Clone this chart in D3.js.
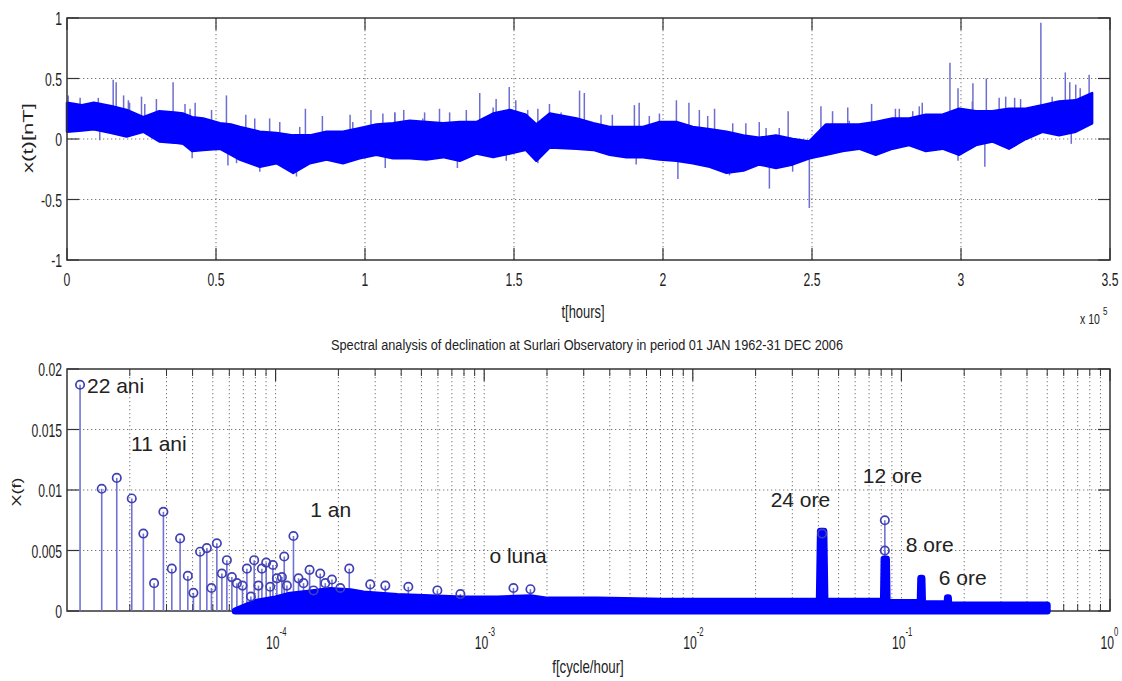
<!DOCTYPE html>
<html><head><meta charset="utf-8">
<script src="https://cdn.jsdelivr.net/npm/d3@7"></script>
<style>body{margin:0;background:#fff}svg{display:block}</style>
</head><body><svg id="c" width="1122" height="681"></svg>
<script>
// ---------- DATA (top: time series, t in units of 1e5 hours) ----------
const tSample=[0,0.05,0.09,0.15,0.20,0.256,0.31,0.36,0.39,0.42,0.457,0.513,0.55,0.58,0.647,0.703,0.759,0.815,0.871,0.926,0.982,1.038,1.094,1.15,1.206,1.262,1.318,1.374,1.43,1.486,1.54,1.575,1.62,1.71,1.766,1.821,1.877,1.933,1.989,2.045,2.10,2.157,2.213,2.27,2.323,2.379,2.435,2.491,2.547,2.603,2.658,2.714,2.77,2.826,2.882,2.938,2.994,3.05,3.105,3.161,3.217,3.273,3.329,3.385,3.44];
const bandUpper=[0.30,0.28,0.30,0.27,0.24,0.18,0.23,0.22,0.21,0.18,0.17,0.13,0.12,0.10,0.06,0.05,0.03,0.03,0.06,0.06,0.09,0.12,0.13,0.15,0.14,0.13,0.14,0.14,0.21,0.24,0.20,0.12,0.21,0.17,0.13,0.10,0.10,0.10,0.14,0.14,0.10,0.08,0.06,0.03,0.01,0.03,0.00,-0.02,0.12,0.12,0.12,0.14,0.17,0.17,0.20,0.20,0.25,0.23,0.23,0.25,0.25,0.28,0.31,0.32,0.38];
const bandLower=[0.06,0.07,0.08,0.05,0.02,0.06,-0.02,-0.03,-0.04,-0.10,-0.09,-0.08,-0.13,-0.17,-0.23,-0.20,-0.28,-0.20,-0.17,-0.20,-0.16,-0.13,-0.16,-0.16,-0.17,-0.15,-0.18,-0.12,-0.15,-0.12,-0.09,-0.18,-0.07,-0.08,-0.09,-0.13,-0.15,-0.15,-0.17,-0.18,-0.20,-0.23,-0.28,-0.26,-0.21,-0.24,-0.21,-0.16,-0.13,-0.10,-0.08,-0.13,-0.08,-0.05,-0.10,-0.08,-0.13,-0.05,-0.02,-0.08,0.00,0.06,0.03,0.06,0.13];
const spikeT=[0.004,0.155,0.165,0.19,0.21,0.25,0.30,0.356,0.43,0.535,0.60,0.68,0.80,0.857,0.95,1.02,1.10,1.13,1.20,1.25,1.385,1.44,1.484,1.506,1.58,1.72,1.736,1.83,1.904,1.92,2.045,2.087,2.173,2.234,2.42,2.53,2.62,2.70,2.78,2.87,2.963,2.99,3.04,3.085,3.15,3.20,3.268,3.35,3.365,3.40,3.43];
const spikeV=[0.36,0.49,0.47,0.36,0.30,0.35,0.33,0.47,0.30,0.36,0.20,0.17,0.25,0.19,0.20,0.24,0.22,0.24,0.22,0.25,0.38,0.33,0.43,0.32,0.25,0.40,0.38,0.20,0.28,0.30,0.32,0.30,0.25,0.13,0.23,0.27,0.26,0.29,0.25,0.30,0.63,0.42,0.46,0.50,0.35,0.33,0.96,0.55,0.47,0.42,0.53];
const minorT=[0.044,0.105,0.206,0.261,0.396,0.413,0.485,0.63,0.714,0.781,0.959,1.06,1.10,1.194,1.284,1.34,1.43,1.546,1.619,1.658,1.792,1.954,1.988,2.122,2.15,2.278,2.323,2.346,2.39,2.569,2.625,2.793,2.838,2.86,3.038,3.128,3.18,3.306,3.385];
const minorV=[0.34,0.34,0.32,0.29,0.29,0.25,0.24,0.17,0.14,0.10,0.14,0.21,0.22,0.17,0.22,0.24,0.26,0.24,0.29,0.22,0.20,0.19,0.21,0.24,0.19,0.13,0.14,0.09,0.09,0.23,0.15,0.25,0.23,0.27,0.31,0.34,0.34,0.35,0.45];
const dipT=[0.11,0.42,0.54,0.569,0.647,0.77,1.068,1.31,1.474,1.58,1.91,2.05,2.223,2.357,2.435,2.491,2.99,3.08,3.37];
const dipV=[-0.01,-0.16,-0.22,-0.20,-0.27,-0.31,-0.24,-0.24,-0.18,-0.20,-0.21,-0.33,-0.30,-0.41,-0.27,-0.57,-0.18,-0.23,-0.04];
const topXTicks=[0,0.5,1,1.5,2,2.5,3,3.5];
const topXLabels=["0","0.5","1","1.5","2","2.5","3","3.5"];
const topYTicks=[-1,-0.5,0,0.5,1];
const topYLabels=["-1","-0.5","0","0.5","1"];

// ---------- DATA (bottom: spectrum) ----------
const stemF=[1.155e-5,1.467e-5,1.732e-5,2.044e-5,2.323e-5,2.615e-5,2.898e-5,3.180e-5,3.485e-5,3.795e-5,4.037e-5,4.346e-5,4.681e-5,4.925e-5,5.228e-5,5.526e-5,5.840e-5,6.171e-5,6.522e-5,6.938e-5,7.284e-5,7.613e-5,7.895e-5,8.278e-5,8.596e-5,9.013e-5,9.421e-5,9.706e-5,1.014e-4,1.072e-4,1.100e-4,1.133e-4,1.218e-4,1.288e-4,1.361e-4,1.455e-4,1.520e-4,1.637e-4,1.730e-4,1.863e-4,2.042e-4,2.255e-4,2.843e-4,3.357e-4,4.328e-4,5.963e-4,7.689e-4,1.381e-3,1.666e-3,4.17e-2,8.33e-2,8.33e-2];
const stemV=[0.0187,0.0101,0.0110,0.0093,0.0064,0.0023,0.0082,0.0035,0.0060,0.0029,0.0015,0.0049,0.0052,0.0019,0.0056,0.0031,0.0042,0.0028,0.0023,0.0021,0.0035,0.0012,0.0042,0.0021,0.0035,0.0040,0.0020,0.0038,0.0027,0.0028,0.0045,0.0021,0.0062,0.0027,0.0023,0.0034,0.0017,0.0031,0.0023,0.0026,0.0019,0.0035,0.0022,0.0021,0.0020,0.0017,0.0014,0.0019,0.0018,0.0064,0.0075,0.0050];
const denseF=[6.4e-5,8.0e-5,1.0e-4,1.175e-4,1.466e-4,1.828e-4,2.28e-4,2.633e-4,3.832e-4,5.52e-4,7.95e-4,1.157e-3,1.666e-3,2.011e-3,3.493e-3,7.24e-3,1.519e-2,3.184e-2,0.0376,0.0404,0.0409,0.0425,0.0430,0.0466,0.078,0.0820,0.0826,0.0848,0.0854,0.090,0.117,0.1230,0.1238,0.1255,0.1263,0.132,0.158,0.1655,0.1662,0.1680,0.1688,0.18,0.25,0.35,0.5];
const denseV=[0.0000,0.0007,0.0010,0.0013,0.0015,0.0017,0.0016,0.0014,0.0012,0.0011,0.0010,0.0010,0.0011,0.0009,0.0009,0.0008,0.0008,0.0008,0.0008,0.0008,0.0066,0.0066,0.0008,0.0008,0.0008,0.0008,0.0043,0.0043,0.0007,0.0007,0.0007,0.0007,0.0027,0.0027,0.0006,0.0006,0.0006,0.0006,0.0011,0.0011,0.0005,0.0005,0.0005,0.0005,0.0005];
const botYTicks=[0,0.005,0.01,0.015,0.02];
const botYLabels=["0","0.005","0.01","0.015","0.02"];
const botXTicks=[1e-4,1e-3,1e-2,1e-1,1];
const botXExp=["-4","-3","-2","-1","0"];
const noteText=["22 ani","11 ani","1 an","o luna","24 ore","12 ore","8 ore","6 ore"];
const noteF=[1.247e-5,2.028e-5,1.466e-4,1.059e-3,2.362e-2,6.527e-2,0.1050,0.1512];
const noteV=[0.01802,0.01322,0.00777,0.00397,0.00860,0.01058,0.00488,0.00215];

// ---------- DRAW ----------
const svg=d3.select("#c");
const FONT="'Liberation Sans', Arial, Helvetica, sans-serif";
const INK="#222";
const GRID="#777";
function ctext(g,x,y,str,size,anchor,sx){
  return g.append("text").attr("transform",`translate(${x},${y}) scale(${sx},1)`)
    .attr("text-anchor",anchor).attr("font-size",size).attr("font-family",FONT)
    .attr("fill",INK).text(str);
}
function dotted(g,x1,y1,x2,y2){
  g.append("line").attr("x1",x1).attr("y1",y1).attr("x2",x2).attr("y2",y2)
   .attr("stroke",GRID).attr("stroke-width",1).attr("stroke-dasharray","1.3,2.7");
}
function seg(g,x1,y1,x2,y2,w,c){
  g.append("line").attr("x1",x1).attr("y1",y1).attr("x2",x2).attr("y2",y2)
   .attr("stroke",c||"#333").attr("stroke-width",w||1.2);
}

// ===== TOP PLOT =====
const L=67,R=1110,T1=18,B1=260;
const x1=d3.scaleLinear().domain([0,3.5]).range([L,R]);
const y1=d3.scaleLinear().domain([-1,1]).range([B1,T1]);
const g1=svg.append("g");
topXTicks.forEach(t=>{ if(t>0&&t<3.5) dotted(g1,x1(t),T1,x1(t),B1); });
topYTicks.forEach(v=>{ if(v>-1&&v<1) dotted(g1,L,y1(v),R,y1(v)); });

const midScale=d3.scaleLinear().domain(tSample).range(tSample.map((t,i)=>(bandUpper[i]+bandLower[i])/2)).clamp(true);
const SPK="#6e6ed0";
spikeT.forEach((t,i)=>seg(g1,x1(t),y1(midScale(t)),x1(t),y1(spikeV[i]),1.5,SPK));
minorT.forEach((t,i)=>seg(g1,x1(t),y1(midScale(t)),x1(t),y1(minorV[i]),1.5,SPK));
dipT.forEach((t,i)=>seg(g1,x1(t),y1(midScale(t)),x1(t),y1(dipV[i]),1.5,SPK));
const bandArea=d3.area().x((d,i)=>x1(tSample[i])).y0((d,i)=>y1(bandLower[i])).y1((d,i)=>y1(bandUpper[i]));
g1.append("path").datum(tSample).attr("d",bandArea).attr("fill","#0000ff")
  .attr("stroke","#0000ff").attr("stroke-width",2.5).attr("stroke-linejoin","round");

g1.append("rect").attr("x",L).attr("y",T1).attr("width",R-L).attr("height",B1-T1)
  .attr("fill","none").attr("stroke","#333").attr("stroke-width",1.5);
const TL=12;
topXTicks.forEach(t=>{ seg(g1,x1(t),B1,x1(t),B1-TL); seg(g1,x1(t),T1,x1(t),T1+TL); });
topYTicks.forEach(v=>{ seg(g1,L,y1(v),L+TL,y1(v)); seg(g1,R,y1(v),R-TL,y1(v)); });
topXTicks.forEach((t,i)=>ctext(g1,x1(t),286,topXLabels[i],19,"middle",0.64));
topYTicks.forEach((v,i)=>ctext(g1,62,y1(v)+7,topYLabels[i],19,"end",0.64));
ctext(g1,583,318,"t[hours]",19,"middle",0.68);
ctext(g1,1080,324,"x 10",14,"start",0.75);
ctext(g1,1103,315,"5",10,"start",0.8);
g1.append("text").attr("transform","translate(33,138) rotate(-90)").attr("text-anchor","middle")
  .attr("font-size",14).attr("font-family",FONT).attr("fill",INK)
  .attr("textLength",70).attr("lengthAdjust","spacingAndGlyphs").text("x(t)[nT]");

// title
svg.append("text").attr("x",587).attr("y",350).attr("text-anchor","middle")
  .attr("font-size",14).attr("font-family",FONT).attr("fill",INK)
  .attr("textLength",512).attr("lengthAdjust","spacingAndGlyphs")
  .text("Spectral analysis of declination at Surlari Observatory in period 01 JAN 1962-31 DEC 2006");

// ===== BOTTOM PLOT =====
const T2=369,B2=611;
const x2=d3.scaleLog().domain([1e-5,1]).range([L,R]);
const y2=d3.scaleLinear().domain([0,0.02]).range([B2,T2]);
const g2=svg.append("g");
const minor=[];
for(let e=-5;e<0;e++){ for(let m=2;m<=9;m++) minor.push(m*Math.pow(10,e)); }
minor.forEach(f=>dotted(g2,x2(f),T2,x2(f),B2));
botXTicks.forEach(f=>{ if(f<1) dotted(g2,x2(f),T2,x2(f),B2); });
botYTicks.forEach(v=>{ if(v>0&&v<0.02) dotted(g2,L,y2(v),R,y2(v)); });

g2.append("rect").attr("x",L).attr("y",T2).attr("width",R-L).attr("height",B2-T2)
  .attr("fill","none").attr("stroke","#333").attr("stroke-width",1.5);
botXTicks.forEach(f=>{ seg(g2,x2(f),B2,x2(f),B2-TL); seg(g2,x2(f),T2,x2(f),T2+TL); });
minor.forEach(f=>{ seg(g2,x2(f),B2,x2(f),B2-7,1); seg(g2,x2(f),T2,x2(f),T2+7,1); });
botYTicks.forEach(v=>{ seg(g2,L,y2(v),L+TL,y2(v)); seg(g2,R,y2(v),R-TL,y2(v)); });

// stems
stemF.forEach((f,i)=>seg(g2,x2(f),y2(0),x2(f),y2(stemV[i]),1.6,"#7272d4"));
// dense spectrum band
const denseArea=d3.area().x((d,i)=>x2(denseF[i])).y0(y2(0)).y1((d,i)=>y2(denseV[i]));
g2.append("path").datum(denseF).attr("d",denseArea).attr("fill","#0000ff")
  .attr("stroke","#0000ff").attr("stroke-width",7).attr("stroke-linejoin","round").attr("stroke-linecap","round");
// markers
stemF.forEach((f,i)=>g2.append("circle").attr("cx",x2(f)).attr("cy",y2(stemV[i])).attr("r",4.2)
  .attr("fill","none").attr("stroke","#4040b4").attr("stroke-width",1.7));

botYTicks.forEach((v,i)=>ctext(g2,62,y2(v)+7,botYLabels[i],19,"end",0.64));
botXTicks.forEach((f,i)=>{
  ctext(g2,x2(f)+4,649,"10",19,"end",0.64);
  ctext(g2,x2(f)+4,636,botXExp[i],12,"start",0.64);
});
ctext(g2,588,673,"f[cycle/hour]",19,"middle",0.70);
g2.append("text").attr("transform","translate(21,492) rotate(-90)").attr("text-anchor","middle")
  .attr("font-size",13).attr("font-family",FONT).attr("fill",INK)
  .attr("textLength",29).attr("lengthAdjust","spacingAndGlyphs").text("X(f)");

noteText.forEach((s,i)=>g2.append("text").attr("x",x2(noteF[i])).attr("y",y2(noteV[i]))
  .attr("font-size",21).attr("font-family",FONT).attr("fill",INK).text(s));
</script></body></html>
